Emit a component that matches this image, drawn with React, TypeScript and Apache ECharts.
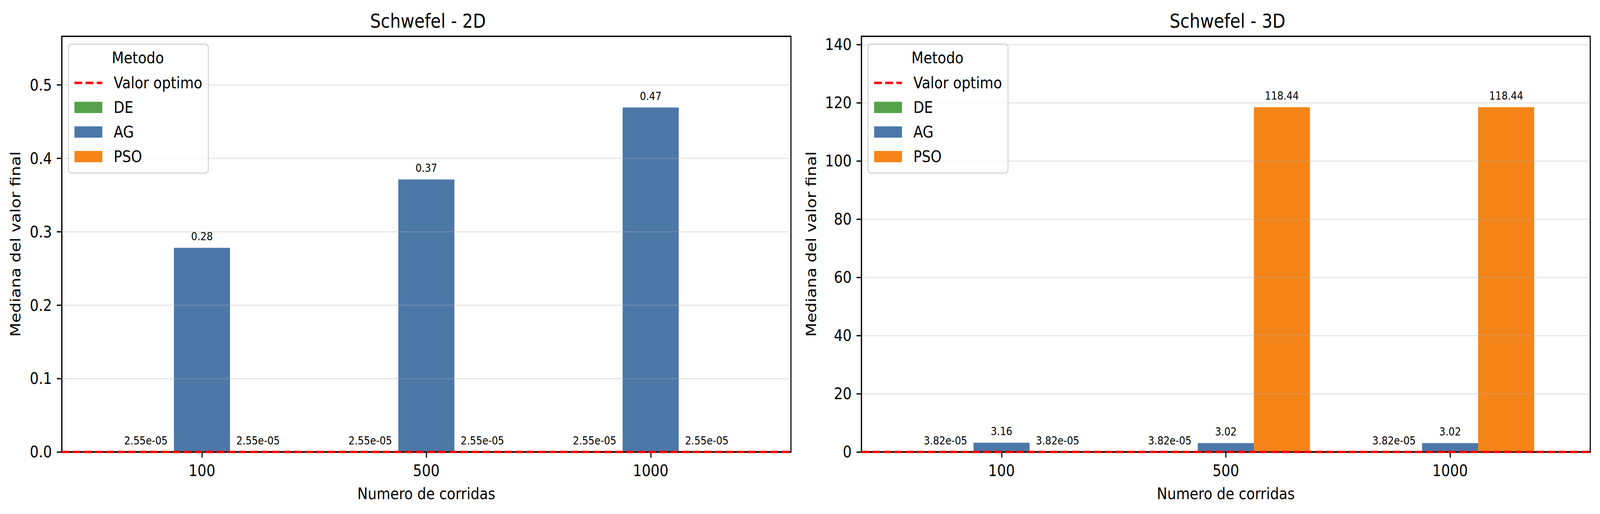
import React, { useEffect, useRef, useState } from 'react';
import * as echarts from 'echarts';

// ---- data ----
const runs = ['100', '500', '1000'];
const methods = ['DE', 'AG', 'PSO'];
const methodColors = ['#55a24a', '#4c78a8', '#f58518'];
const optimumName = 'Valor optimo';
const titles = ['Schwefel - 2D', 'Schwefel - 3D'];
const de2D = [2.5455e-5, 2.5455e-5, 2.5455e-5];
const ag2D = [0.278, 0.371, 0.469];
const pso2D = [2.5455e-5, 2.5455e-5, 2.5455e-5];
const de3D = [3.8183e-5, 3.8183e-5, 3.8183e-5];
const ag3D = [3.16, 3.02, 3.02];
const pso3D = [3.8183e-5, 118.4384, 118.4384];
const optimumValue = 0;
const yTicks2D = [0, 0.1, 0.2, 0.3, 0.4, 0.5];
const yTicks3D = [0, 20, 40, 60, 80, 100, 120, 140];
const yMaxes = [0.566, 142.8];
const yDecimals = [1, 0];
const xLabel = 'Numero de corridas';
const yLabel = 'Mediana del valor final';
const legendTitle = 'Metodo';

const panels = [
  [de2D, ag2D, pso2D],
  [de3D, ag3D, pso3D],
];
const yTicks = [yTicks2D, yTicks3D];

// ---- layout ----
const W = 4770;
const H = 1316;
const FONT = 'DejaVu Sans';
const grids = [
  { left: 184, top: 93, width: 2174, height: 1064 },
  { left: 2568, top: 93, width: 2173, height: 1064 },
];
const xMin = -0.625;
const xMax = 2.625;
const barUnit = 0.25;
const offsets = [-0.25, 0, 0.25];
const yNameGaps = [117, 129];
const dashIcon =
  'path://M0,0h0.01v0.01h-0.01z M82.99,28.99h0.01v0.01h-0.01z ' +
  'M0,11.4h23v6.25h-23z M33,11.4h23.3v6.25h-23.3z M66.3,11.4h16.7v6.25h-16.7z';

function fmt(v: number): string {
  if (Math.abs(v) < 0.01) {
    const [m, e] = v.toExponential(2).split('e');
    const n = parseInt(e, 10);
    return m + 'e' + (n < 0 ? '-' : '+') + String(Math.abs(n)).padStart(2, '0');
  }
  return v.toFixed(2);
}

function buildOption() {
  const series: any[] = [];
  const xAxis: any[] = [];
  const yAxis: any[] = [];
  const legend: any[] = [];
  const title: any[] = [];
  const graphic: any[] = [];

  grids.forEach((g, gi) => {
    const barPx = (g.width * barUnit) / (xMax - xMin);
    xAxis.push({
      type: 'value',
      gridIndex: gi,
      min: xMin,
      max: xMax,
      z: 10,
      name: xLabel,
      nameLocation: 'middle',
      nameGap: 86,
      nameTextStyle: { fontSize: 41.67, color: '#000', fontFamily: FONT },
      axisLine: { show: true, onZero: false, lineStyle: { color: '#000', width: 3.3 } },
      axisTick: {
        show: true,
        customValues: [0, 1, 2],
        length: 14.6,
        lineStyle: { color: '#000', width: 3.3 },
      },
      axisLabel: {
        show: true,
        customValues: [0, 1, 2],
        margin: 27,
        fontSize: 41.67,
        color: '#000',
        fontFamily: FONT,
        formatter: (v: number) => runs[Math.round(v)] ?? '',
      },
      splitLine: { show: false },
    });
    yAxis.push({
      type: 'value',
      gridIndex: gi,
      min: 0,
      max: yMaxes[gi],
      z: 10,
      name: yLabel,
      nameLocation: 'middle',
      nameGap: yNameGaps[gi],
      nameTextStyle: { fontSize: 41.67, color: '#000', fontFamily: FONT },
      axisLine: { show: true, onZero: false, lineStyle: { color: '#000', width: 3.3 } },
      axisTick: {
        show: true,
        customValues: yTicks[gi],
        length: 14.6,
        lineStyle: { color: '#000', width: 3.3 },
      },
      axisLabel: {
        customValues: yTicks[gi],
        margin: 29,
        fontSize: 41.67,
        color: '#000',
        fontFamily: FONT,
        formatter: (v: number) => v.toFixed(yDecimals[gi]),
      },
      splitLine: { show: false },
    });

    series.push({
      type: 'line',
      name: '__grid' + gi,
      xAxisIndex: gi,
      yAxisIndex: gi,
      data: [],
      silent: true,
      z: 4,
      markLine: {
        silent: true,
        symbol: 'none',
        label: { show: false },
        lineStyle: { color: 'rgba(176,176,176,0.3)', width: 3, type: 'solid' },
        data: yTicks[gi].slice(1).map((t) => ({ yAxis: t })),
      },
    });

    series.push({
      type: 'line',
      name: optimumName,
      xAxisIndex: gi,
      yAxisIndex: gi,
      data: [
        [xMin, optimumValue],
        [xMax, optimumValue],
      ],
      symbol: 'none',
      z: 12,
      lineStyle: { color: '#ff0000', width: 6.25, type: [23, 10] },
      itemStyle: { color: '#ff0000' },
    });

    methods.forEach((m, mi) => {
      series.push({
        type: 'bar',
        name: m,
        xAxisIndex: gi,
        yAxisIndex: gi,
        barWidth: barPx,
        barGap: '-100%',
        z: 2,
        itemStyle: { color: methodColors[mi] },
        data: panels[gi][mi].map((v, ci) => [ci + offsets[mi], v]),
        label: {
          show: true,
          position: 'top',
          distance: 15,
          fontSize: 29,
          color: '#000',
          fontFamily: FONT,
          formatter: (p: any) => fmt(p.value[1]),
        },
      });
    });

    legend.push({
      orient: 'vertical',
      left: g.left + 20,
      top: 113,
      z: 20,
      selectedMode: false,
      padding: [78, 18, 21, 18],
      itemWidth: 83,
      itemHeight: 29,
      itemGap: 21,
      backgroundColor: 'rgba(255,255,255,0.8)',
      borderColor: '#d4d4d4',
      borderWidth: 3,
      borderRadius: 9,
      textStyle: {
        fontSize: 41.67,
        lineHeight: 42,
        color: '#000',
        fontFamily: FONT,
        padding: [0, 0, 0, 29],
      },
      data: [
        { name: optimumName, icon: dashIcon, itemStyle: { color: '#ff0000', borderWidth: 0 } },
        ...methods.map((m) => ({ name: m, icon: 'rect' })),
      ],
    });

    title.push({
      text: titles[gi],
      left: g.left + g.width / 2,
      textAlign: 'center',
      top: 24,
      textStyle: { fontSize: 50, fontWeight: 'normal', color: '#000', fontFamily: FONT },
    });

    graphic.push({
      type: 'text',
      x: g.left + 20 + 207,
      y: 148,
      z: 100,
      style: {
        text: legendTitle,
        fontSize: 41.67,
        fontFamily: FONT,
        fill: '#000',
        align: 'center',
        verticalAlign: 'middle',
      },
    });
  });

  return {
    animation: false,
    backgroundColor: '#fff',
    grid: grids.map((g) => ({
      left: g.left,
      top: g.top,
      width: g.width,
      height: g.height,
      show: true,
      borderColor: '#000',
      borderWidth: 3.3,
      backgroundColor: 'transparent',
      containLabel: false,
    })),
    title,
    legend,
    xAxis,
    yAxis,
    series,
    graphic,
  };
}

export default function App() {
  const ref = useRef<HTMLDivElement>(null);
  const [sc, setSc] = useState({ x: 1, y: 1 });
  useEffect(() => {
    const upd = () => {
      const sx = window.innerWidth / W;
      const sy = window.innerHeight / H;
      setSc({ x: sx > 0 ? sx : 1, y: sy > 0 ? sy : 1 });
    };
    upd();
    window.addEventListener('resize', upd);
    return () => window.removeEventListener('resize', upd);
  }, []);
  useEffect(() => {
    if (!ref.current) return;
    const chart = echarts.init(ref.current, null, { renderer: 'svg', width: W, height: H });
    chart.setOption(buildOption() as any);
    return () => chart.dispose();
  }, []);
  return (
    <div
      style={{
        position: 'fixed',
        left: 0,
        top: 0,
        width: W,
        height: H,
        transform: `scale(${sc.x}, ${sc.y})`,
        transformOrigin: '0 0',
        background: '#fff',
      }}
    >
      <div ref={ref} style={{ width: W, height: H }} />
    </div>
  );
}
